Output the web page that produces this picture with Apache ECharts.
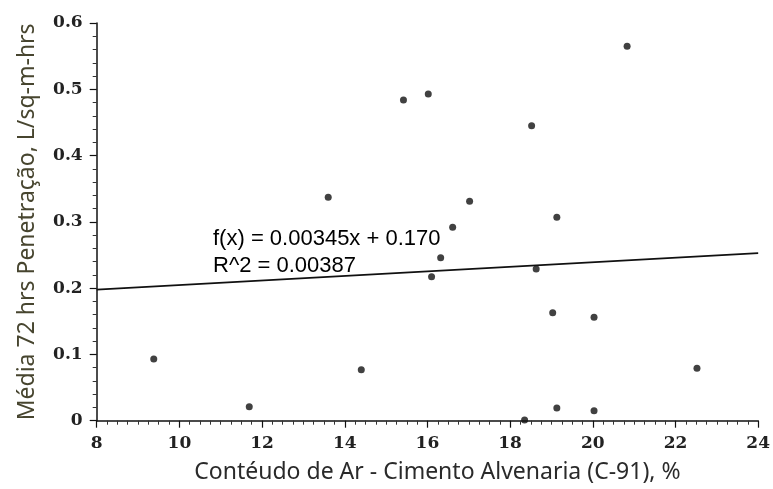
<!DOCTYPE html>
<html>
<head>
<meta charset="utf-8">
<script src="https://cdn.jsdelivr.net/npm/echarts@6/dist/echarts.min.js"></script>
<style>
html,body{margin:0;padding:0;background:#fff;}
#c{width:773px;height:489px;}
</style>
</head>
<body>
<div id="c"></div>
<script>
// Data
const airContent = [9.38, 11.69, 13.60, 14.40, 15.42, 16.02, 16.10, 16.32, 16.61, 17.02, 18.52, 18.35, 18.63, 19.03, 19.13, 19.13, 20.03, 20.03, 20.83, 22.52];
const penetration = [0.093, 0.021, 0.337, 0.077, 0.484, 0.493, 0.217, 0.246, 0.292, 0.331, 0.445, 0.001, 0.229, 0.163, 0.307, 0.019, 0.156, 0.015, 0.565, 0.079];
const fitSlope = 0.00345;
const fitIntercept = 0.170;
const fitR2 = 0.00387;
const xTicks = [8, 10, 12, 14, 16, 18, 20, 22, 24];
const yTicks = [0, 0.1, 0.2, 0.3, 0.4, 0.5, 0.6];

const xMin = xTicks[0], xMax = xTicks[xTicks.length - 1];
const points = airContent.map((x, i) => [x, penetration[i]]);
const fitLine = [xMin, xMax].map(x => [x, fitSlope * x + fitIntercept]);

const chart = echarts.init(document.getElementById('c'), null, {renderer: 'canvas'});
const labelFont = {fontFamily: 'DejaVu Serif', fontSize: 17, fontWeight: 'bold', color: '#222'};
const gridLeft = 96.7, gridTop = 23, gridRight = 11.3, gridBottom = 68.3;

chart.setOption({
  animation: false,
  backgroundColor: '#ffffff',
  grid: {left: gridLeft, right: gridRight, top: gridTop, bottom: gridBottom},
  xAxis: {
    type: 'value',
    min: xMin, max: xMax, interval: 2,
    name: 'Contéudo de Ar - Cimento Alvenaria (C-91), %',
    nameLocation: 'middle', nameGap: 40,
    nameTextStyle: {fontFamily: 'Noto Sans', fontSize: 23, color: '#2a2a2a', padding: [0, 0, 0, 20]},
    axisLine: {show: true, onZero: false, lineStyle: {color: '#111', width: 1.5}},
    axisTick: {show: true, length: 7, lineStyle: {color: '#111', width: 1.2}},
    minorTick: {show: true, splitNumber: 8, length: 4, lineStyle: {color: '#333', width: 1}},
    splitLine: {show: false},
    axisLabel: Object.assign({margin: 14}, labelFont)
  },
  yAxis: {
    type: 'value',
    min: yTicks[0], max: yTicks[yTicks.length - 1], interval: 0.1,
    name: 'Média 72 hrs Penetração, L/sq-m-hrs',
    nameLocation: 'middle', nameGap: 58,
    nameTextStyle: {fontFamily: 'Noto Sans', fontSize: 23, color: '#47452f'},
    axisLine: {show: true, onZero: false, lineStyle: {color: '#111', width: 1.5}},
    axisTick: {show: true, length: 7, lineStyle: {color: '#111', width: 1.2}},
    minorTick: {show: true, splitNumber: 5, length: 4, lineStyle: {color: '#333', width: 1}},
    splitLine: {show: false},
    axisLabel: Object.assign({margin: 14, formatter: v => v === 0 ? '0' : v.toFixed(1)}, labelFont)
  },
  series: [
    {
      type: 'line',
      data: fitLine,
      showSymbol: false,
      symbol: 'none',
      lineStyle: {color: '#111', width: 1.8},
      silent: true,
      z: 2
    },
    {
      type: 'scatter',
      data: points,
      symbol: 'circle',
      symbolSize: 7,
      itemStyle: {color: '#111'},
      z: 3
    }
  ],
  graphic: [
    {
      type: 'text',
      left: 213, top: 228,
      style: {text: 'f(x) = 0.00345x + 0.170', font: '22px "Liberation Sans"', fill: '#000'},
      z: 5
    },
    {
      type: 'text',
      left: 213, top: 255,
      style: {text: 'R^2 = ' + fitR2.toFixed(5), font: '22px "Liberation Sans"', fill: '#000'},
      z: 5
    }
  ]
});
</script>
</body>
</html>
